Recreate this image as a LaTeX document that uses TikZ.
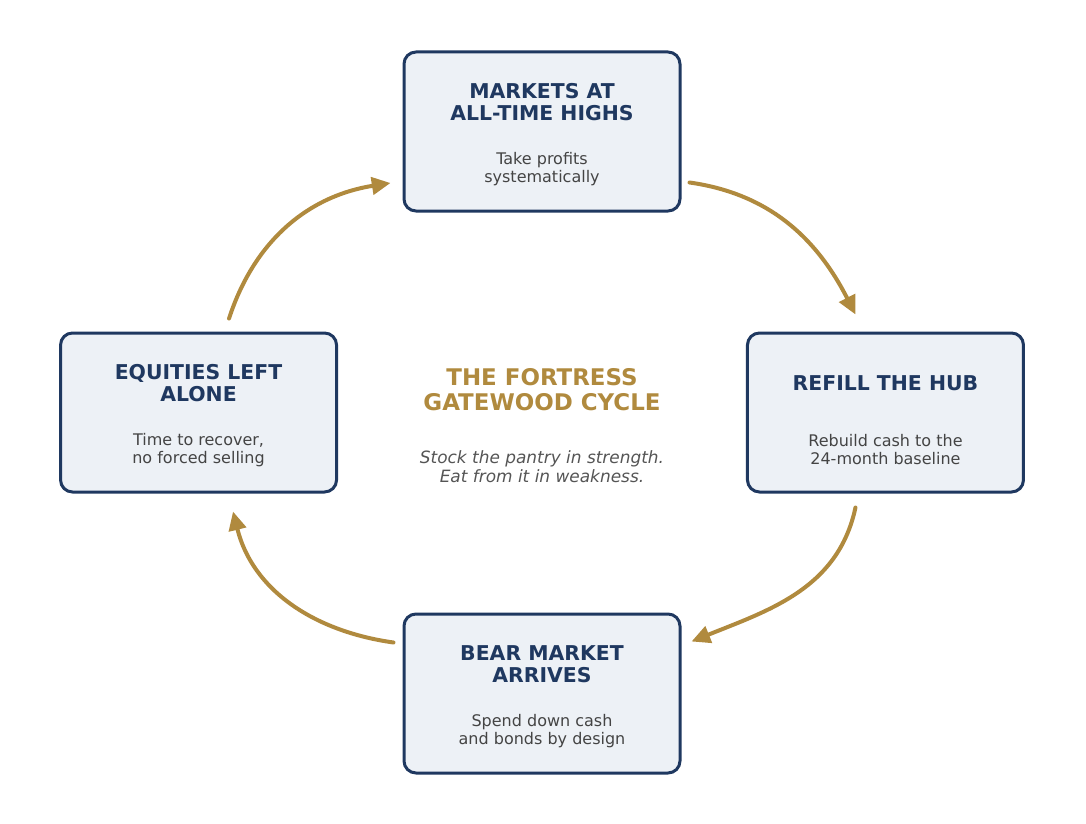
\documentclass[tikz,border=0pt]{standalone}
\usepackage{fontspec}
\setmainfont{DejaVu Sans}
\usetikzlibrary{arrows.meta,calc}
\definecolor{navy}{RGB}{31,56,96}
\definecolor{paper}{RGB}{237,241,246}
\definecolor{gold}{RGB}{176,138,62}
\definecolor{ink}{RGB}{68,68,68}
\definecolor{slate}{RGB}{85,85,85}
\tikzset{%
	>={Triangle[length=14pt,width=13pt]},
	% Specifications for style of nodes:
	stage/.style = {rectangle, rounded corners=9pt, draw=navy, line width=2.25pt,
		minimum width=207pt, minimum height=119.25pt, fill=paper},
	headline/.style = {text=navy, align=center, inner sep=0pt,
		font=\bfseries\fontsize{15.3}{16.5}\selectfont},
	note/.style = {text=ink, align=center, inner sep=0pt,
		font=\fontsize{12}{13.5}\selectfont},
	heading/.style = {text=gold, align=center, inner sep=0pt,
		font=\bfseries\fontsize{17.2}{18.75}\selectfont},
	tagline/.style = {text=slate, align=center, inner sep=0pt,
		font=\itshape\fontsize{12.7}{14.25}\selectfont},
	flow/.style = {->, draw=gold, line width=3pt, line cap=round}
}

\begin{document}
\begin{tikzpicture}[x=0.75pt, y=0.75pt]
	\useasboundingbox (0,0) rectangle (1086,-824);
	\coordinate (mid) at (542,-412.5);
	% Specification of nodes (position, etc.)
	\node (highs)  [stage, node distance=210.75pt, above of=mid] {};
	\node (refill) [stage, node distance=257.6pt, right of=mid]  {};
	\node (bear)   [stage, node distance=210.75pt, below of=mid] {};
	\node (alone)  [stage, node distance=257.6pt, left of=mid]   {};

	\node (highsT)  [headline] at ([yshift=22pt]highs.center)  {MARKETS AT\\ALL-TIME HIGHS};
	\node (highsS)  [note]     at ([yshift=-28pt]highs.center) {Take profits\\systematically};
	\node (refillT) [headline] at ([yshift=22pt]refill.center)  {REFILL THE HUB};
	\node (refillS) [note]     at ([yshift=-28pt]refill.center) {Rebuild cash to the\\24-month baseline};
	\node (bearT)   [headline] at ([yshift=22pt]bear.center)   {BEAR MARKET\\ARRIVES};
	\node (bearS)   [note]     at ([yshift=-28pt]bear.center)  {Spend down cash\\and bonds by design};
	\node (aloneT)  [headline] at ([yshift=22pt]alone.center)  {EQUITIES LEFT\\ALONE};
	\node (aloneS)  [note]     at ([yshift=-28pt]alone.center) {Time to recover,\\no forced selling};

	\node (cycle) [heading] at ([yshift=17.3pt]mid) {THE FORTRESS\\GATEWOOD CYCLE};
	\node (motto) [tagline] at ([yshift=-41pt]mid)  {Stock the pantry in strength.\\Eat from it in weakness.};

	\draw[flow] ($(highs.east)+(8,-51)$) to[out=-8, in=117] ($(refill.north)+(-30,17)$);
	\draw[flow] ($(refill.south)+(-30,-14)$) to[out=-102, in=22] ($(bear.east)+(10,52)$);
	\draw[flow] ($(bear.west)+(-9,51)$) to[out=172, in=-76] ($(alone.south)+(34.5,-18)$);
	\draw[flow] ($(alone.north)+(30.5,13)$) to[out=72, in=189] ($(highs.west)+(-12,-51.5)$);
\end{tikzpicture}
\end{document}
